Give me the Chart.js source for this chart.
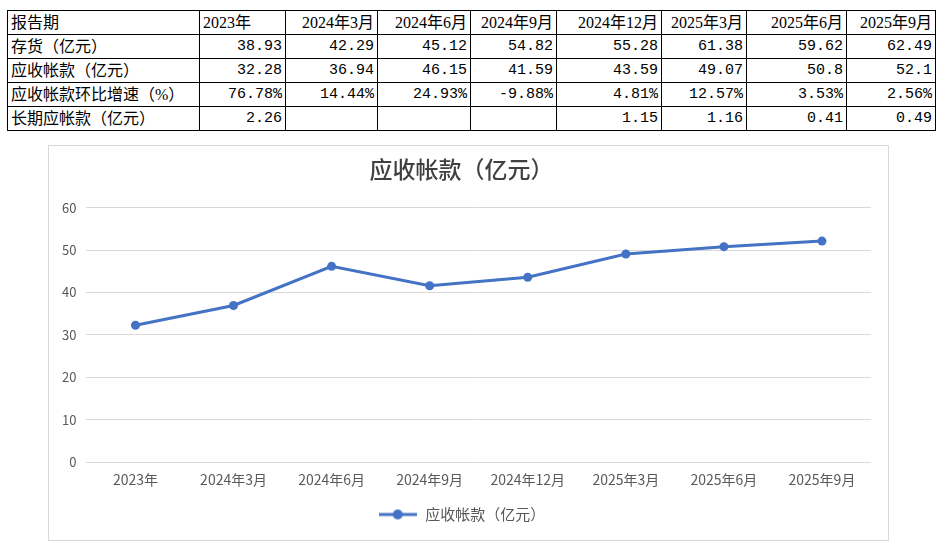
<!DOCTYPE html>
<html>
<head>
<meta charset="utf-8">
<script src="https://cdn.jsdelivr.net/npm/chart.js@4.4.1/dist/chart.umd.min.js"></script>
<style>
  body { margin: 0; background: #fff; width: 945px; height: 549px; position: relative; overflow: hidden; }
  #tabla { position: absolute; left: 7px; top: 10px; border-collapse: collapse; table-layout: fixed;
           font-family: "Liberation Serif", "Noto Sans CJK SC", serif; font-size: 16px; color: #000; }
  #tabla td { border: 1px solid #000; height: 23px; padding: 0 3px; line-height: 22px; white-space: nowrap; overflow: hidden; }
  #tabla td.num { text-align: right; font-family: "Liberation Mono", "Noto Sans CJK SC", monospace; font-size: 15px; }
  #tabla td.cab { text-align: right; }
  #tabla td.izq { text-align: left; }
  #caja { position: absolute; left: 48px; top: 145px; width: 839px; height: 394px; border: 1px solid #d9d9d9; }
</style>
</head>
<body>
<table id="tabla"><tbody id="tbody"></tbody></table>
<div id="caja"><canvas id="miGrafica" width="839" height="394"></canvas></div>
<script>
const periodos = ["2023年", "2024年3月", "2024年6月", "2024年9月", "2024年12月", "2025年3月", "2025年6月", "2025年9月"];
const existencias = ["38.93", "42.29", "45.12", "54.82", "55.28", "61.38", "59.62", "62.49"];
const cuentasCobrar = [32.28, 36.94, 46.15, 41.59, 43.59, 49.07, 50.8, 52.1];
const cuentasTexto = ["32.28", "36.94", "46.15", "41.59", "43.59", "49.07", "50.8", "52.1"];
const crecimiento = ["76.78%", "14.44%", "24.93%", "-9.88%", "4.81%", "12.57%", "3.53%", "2.56%"];
const largoPlazo = ["2.26", "", "", "", "1.15", "1.16", "0.41", "0.49"];
const anchos = [192, 86, 92, 93, 86, 105, 85, 100, 89];
const titulo = "应收帐款（亿元）";

// tabla de arriba
const tabla = document.getElementById("tbody");
function fila(nombre, valores, clase) {
  const tr = document.createElement("tr");
  const td0 = document.createElement("td");
  td0.textContent = nombre;
  td0.className = "izq";
  tr.appendChild(td0);
  valores.forEach((v, i) => {
    const td = document.createElement("td");
    td.textContent = v;
    td.className = (clase === "cab" && i === 0) ? "izq" : clase;
    tr.appendChild(td);
  });
  tabla.appendChild(tr);
}
fila("报告期", periodos, "cab");
fila("存货（亿元）", existencias, "num");
fila("应收帐款（亿元）", cuentasTexto, "num");
fila("应收帐款环比增速（%）", crecimiento, "num");
fila("长期应帐款（亿元）", largoPlazo, "num");
tabla.querySelectorAll("tr:first-child td").forEach((td, i) => { td.style.width = (anchos[i] - 7) + "px"; });

// icono de la leyenda: linea con punto
const icono = document.createElement("canvas");
icono.width = 38; icono.height = 12;
const ic = icono.getContext("2d");
ic.strokeStyle = "#4472C4"; ic.lineWidth = 3;
ic.beginPath(); ic.moveTo(0, 6); ic.lineTo(38, 6); ic.stroke();
ic.fillStyle = "#4472C4";
ic.beginPath(); ic.arc(19, 6, 5, 0, Math.PI * 2); ic.fill();

const gris = "#595959";
const ctx = document.getElementById("miGrafica").getContext("2d");
const myChart = new Chart(ctx, {
  type: "line",
  data: {
    labels: periodos,
    datasets: [{
      label: titulo,
      data: cuentasCobrar,
      borderColor: "#4472C4",
      backgroundColor: "#4472C4",
      borderWidth: 3,
      pointRadius: 4.5,
      pointHoverRadius: 4.5,
      pointBackgroundColor: "#4472C4",
      pointBorderWidth: 0,
      tension: 0
    }]
  },
  options: {
    responsive: false,
    animation: false,
    layout: { padding: { left: 3, right: 17, top: 0, bottom: 8 } },
    plugins: {
      title: {
        display: true,
        text: titulo,
        color: "#404040",
        font: { size: 23, family: "'Noto Sans CJK SC', sans-serif", weight: "500" },
        padding: { top: 9, bottom: 25 }
      },
      legend: {
        position: "bottom",
        labels: {
          color: gris,
          font: { size: 15, family: "'Noto Sans CJK SC', sans-serif" },
          usePointStyle: true,
          pointStyleWidth: 40,
          padding: 10,
          generateLabels: (chart) => [{
            text: titulo,
            fontColor: gris,
            pointStyle: icono,
            datasetIndex: 0,
            lineWidth: 0
          }]
        }
      },
      tooltip: { enabled: false }
    },
    scales: {
      x: {
        offset: true,
        grid: { display: false, drawTicks: false },
        border: { display: false },
        ticks: { color: gris, font: { size: 14, family: "'Noto Sans CJK SC', sans-serif" }, padding: 9, maxRotation: 0 }
      },
      y: {
        min: 0,
        max: 60,
        ticks: { stepSize: 10, color: gris, font: { size: 13, family: "'Noto Sans CJK SC', sans-serif" }, padding: 10 },
        grid: { color: "#d9d9d9", drawTicks: false },
        border: { display: false }
      }
    }
  }
});
</script>
</body>
</html>
